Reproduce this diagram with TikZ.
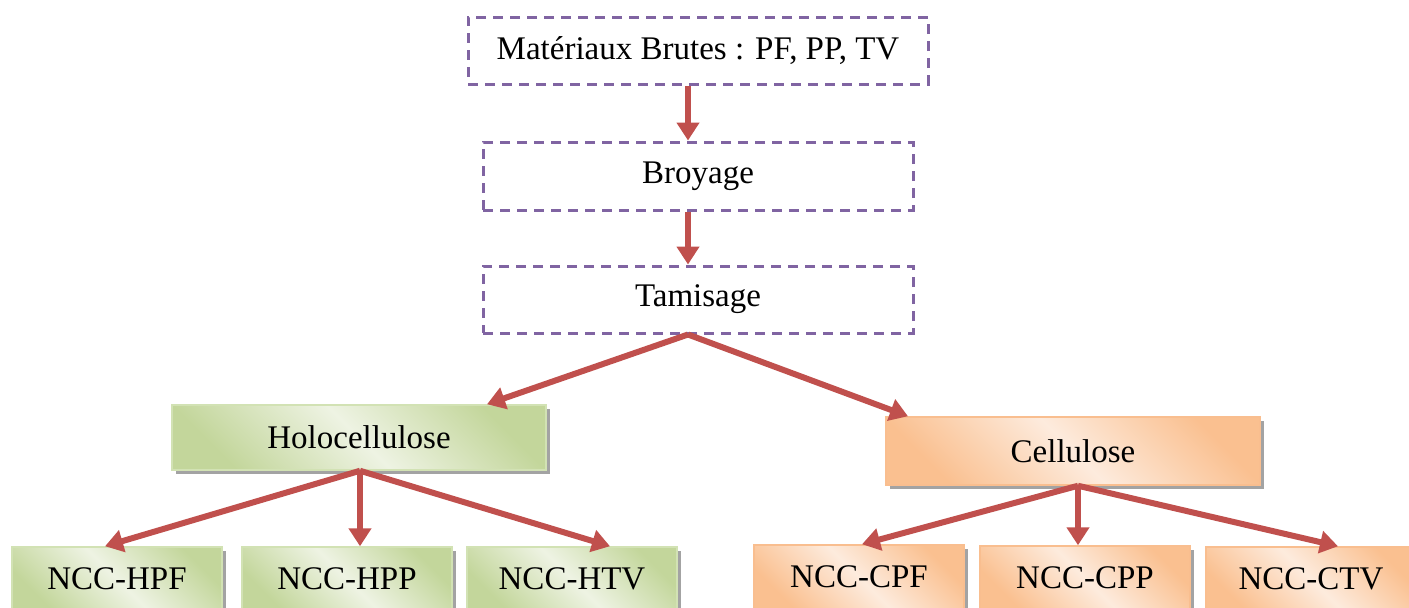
\documentclass[tikz,border=0pt]{standalone}
\usepackage{fontspec}
\setmainfont{Liberation Serif}
\usetikzlibrary{arrows.meta,calc,shadows}
\definecolor{boxpurple}{HTML}{8064A2}
\definecolor{arrred}{HTML}{C0504D}
\definecolor{gD}{HTML}{C3D69B}
\definecolor{gL}{HTML}{EEF3E3}
\definecolor{gB}{HTML}{D2E2B4}
\definecolor{oD}{HTML}{FAC090}
\definecolor{oL}{HTML}{FDEBDD}
\definecolor{oB}{HTML}{F9BE8F}
\begin{document}
\begin{tikzpicture}[x=1pt,y=-1pt,
  txt/.style={font=\fontsize{33}{39}\selectfont, inner sep=0pt, align=center},
  dashbox/.style={txt, draw=boxpurple, line width=3pt, dash pattern=on 10pt off 7pt},
  shadowed/.style={drop shadow={shadow xshift=4pt, shadow yshift=-4pt, fill=black!45, opacity=0.8}},
  greenbox/.style={txt, draw=gB, line width=1.5pt, left color=gD, right color=gD, middle color=gL, shading angle=-45, shadowed},
  orangebox/.style={txt, draw=oB, line width=1.5pt, left color=oD, right color=oD, middle color=oL, shading angle=-45, shadowed},
  flow/.style={draw=arrred, line width=6pt, -{Triangle[length=18pt,width=22pt]}}
]
\useasboundingbox (0,0) rectangle (1409,608);
\clip (0,0) rectangle (1409,608);

\node[dashbox, minimum width=460pt, minimum height=67pt] (top) at (698,50.5) {Matériaux Brutes : PF, PP, TV};
\node[dashbox, minimum width=430pt, minimum height=68pt] (broy) at (698,176) {Broyage};
\node[dashbox, minimum width=430pt, minimum height=67pt] (tam) at (698,299.5) {Tamisage};

\node[greenbox, minimum width=374pt, minimum height=65pt] (holo) at (359,437.5) {Holocellulose};
\node[orangebox, minimum width=374pt, minimum height=68pt] (cell) at (1073,451) {Cellulose};

\node[greenbox, minimum width=210pt, minimum height=64pt] (hpf) at (117,579) {NCC-HPF};
\node[greenbox, minimum width=210pt, minimum height=64pt] (hpp) at (347,579) {NCC-HPP};
\node[greenbox, minimum width=210pt, minimum height=64pt] (htv) at (572,579) {NCC-HTV};

\node[orangebox, minimum width=210pt, minimum height=64pt] (cpf) at (859,577) {NCC-CPF};
\node[orangebox, minimum width=210pt, minimum height=64pt] (cpp) at (1085,578) {NCC-CPP};
\node[orangebox, minimum width=210pt, minimum height=64pt] (ctv) at (1311,579) {NCC-CTV};

\draw[flow] ($(top.south)+(-10,0)$) -- ($(broy.north)+(-10,0)$);
\draw[flow] ($(broy.south)+(-10,0)$) -- ($(tam.north)+(-10,0)$);
\draw[flow] ($(tam.south)+(-10,0)$) -- ($(holo.north)+(128,0)$);
\draw[flow] ($(tam.south)+(-10,0)$) -- ($(cell.north)+(-165,0)$);

\draw[flow] ($(holo.south)+(1,0)$) -- ($(hpf.north)+(-12,0)$);
\draw[flow] ($(holo.south)+(1,0)$) -- ($(hpp.north)+(13,0)$);
\draw[flow] ($(holo.south)+(1,0)$) -- ($(htv.north)+(38,0)$);

\draw[flow] ($(cell.south)+(5,0)$) -- ($(cpf.north)+(3,0)$);
\draw[flow] ($(cell.south)+(5,0)$) -- ($(cpp.north)+(-7,0)$);
\draw[flow] ($(cell.south)+(5,0)$) -- ($(ctv.north)+(27,0)$);
\end{tikzpicture}
\end{document}
